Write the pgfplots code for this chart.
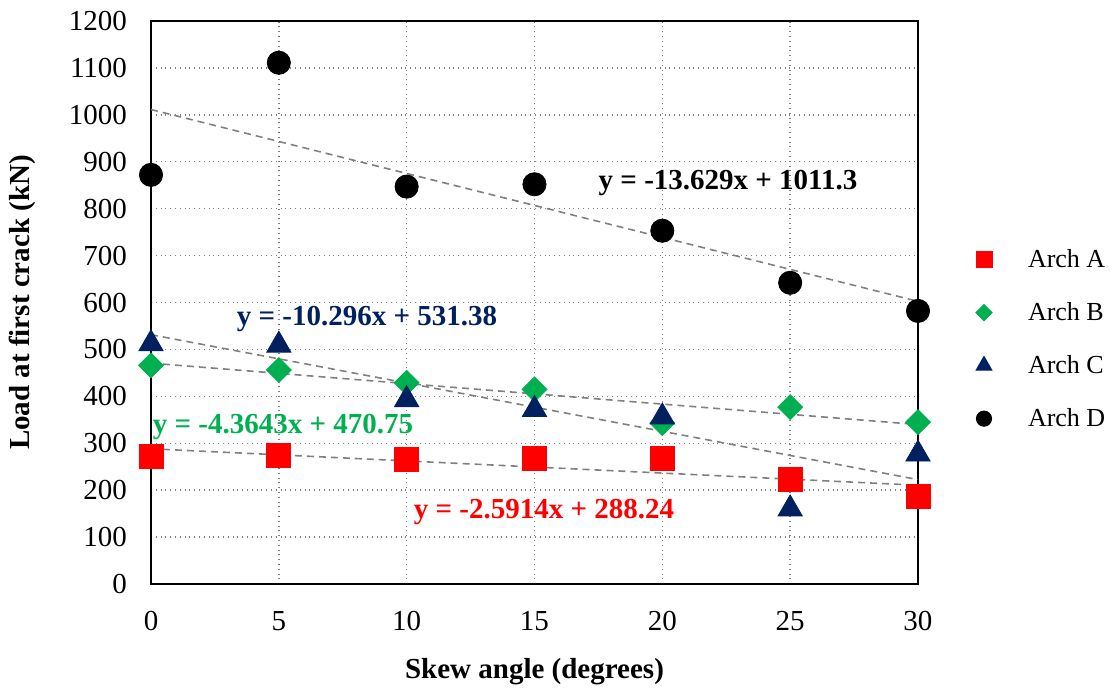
\documentclass[border=0pt]{standalone}
\usepackage{pgfplots}
\pgfplotsset{compat=1.18}
\usepackage{fontspec}
\setmainfont{Liberation Serif}
\definecolor{archA}{RGB}{255,0,0}
\definecolor{archB}{RGB}{0,176,80}
\definecolor{archC}{RGB}{0,32,96}
\definecolor{trend}{RGB}{128,128,128}
\newcommand{\fs}{\fontsize{14.5}{17}\selectfont}
\begin{document}
\begin{tikzpicture}
\useasboundingbox (0,0) rectangle (555pt,343.5pt);
\begin{axis}[
  at={(75.5pt,51.5pt)}, anchor=south west,
  scale only axis, width=383.5pt, height=281.5pt,
  xmin=0, xmax=30, ymin=0, ymax=1200,
  xtick={0,5,...,30}, ytick={0,100,...,1200},
  /pgf/number format/assume math mode=true,
  /pgf/number format/1000 sep={},
  tick label style={font=\fs},
  xticklabel style={yshift=-10pt},
  yticklabel style={xshift=-8.5pt},
  major tick length=0pt,
  grid=major,
  major grid style={dotted, trend, line width=0.7pt},
  axis line style={black, line width=0.9pt},
  clip=false,
  xlabel={\textbf{Skew angle (degrees)}},
  ylabel={\textbf{Load at first crack (kN)}},
  label style={font=\fs},
  xlabel style={at={(axis description cs:0.5,-0.156)}, anchor=center},
  ylabel style={at={(axis description cs:-0.168,0.5)}, anchor=center},
  legend style={draw=none, fill=none, font=\fontsize{13}{15}\selectfont, at={(axis description cs:1.067,0.435)}, anchor=west, row sep=12pt, legend cell align=left},
  legend image code/.code={\path[draw=none,fill=none] (0pt,0pt) (24pt,0pt); \draw[#1, only marks, every mark/.append style={scale=0.66}] plot coordinates {(4pt,0pt)};},
]
\addplot[only marks, mark=square*, mark size=6pt, color=archA] coordinates {
(0,271) (5,275) (10,266) (15,267) (20,267) (25,224) (30,186)};
\addlegendentry{Arch A}
\addplot[only marks, mark=square*, mark size=4.4pt, mark options={rotate=45}, color=archB] coordinates {
(0,466) (5,456) (10,429) (15,415) (20,343) (25,377) (30,345)};
\addlegendentry{Arch B}
\addplot[only marks, mark=triangle*, mark size=7pt, color=archC] coordinates {
(0,512) (5,509) (10,393) (15,372) (20,356) (25,160) (30,277)};
\addlegendentry{Arch C}
\addplot[only marks, mark=*, mark size=5.8pt, color=black] coordinates {
(0,872) (5,1111) (10,847) (15,852) (20,753) (25,642) (30,582)};
\addlegendentry{Arch D}
\addplot[forget plot, trend, line width=0.8pt, dash pattern=on 3.5pt off 2.5pt] coordinates {(0,288.24) (30,210.50)};
\addplot[forget plot, trend, line width=0.8pt, dash pattern=on 3.5pt off 2.5pt] coordinates {(0,470.75) (30,339.82)};
\addplot[forget plot, trend, line width=0.8pt, dash pattern=on 3.5pt off 2.5pt] coordinates {(0,531.38) (30,222.50)};
\addplot[forget plot, trend, line width=0.8pt, dash pattern=on 3.5pt off 2.5pt] coordinates {(0,1011.3) (30,602.43)};
\node[font=\fs\bfseries, text=black] at (axis cs:22.57,855) {y = -13.629x + 1011.3};
\node[font=\fs\bfseries, text=archC] at (axis cs:8.45,565) {y = -10.296x + 531.38};
\node[font=\fs\bfseries, text=archB] at (axis cs:5.16,335) {y = -4.3643x + 470.75};
\node[font=\fs\bfseries, text=archA] at (axis cs:15.37,154) {y = -2.5914x + 288.24};
\end{axis}
\end{tikzpicture}
\end{document}
